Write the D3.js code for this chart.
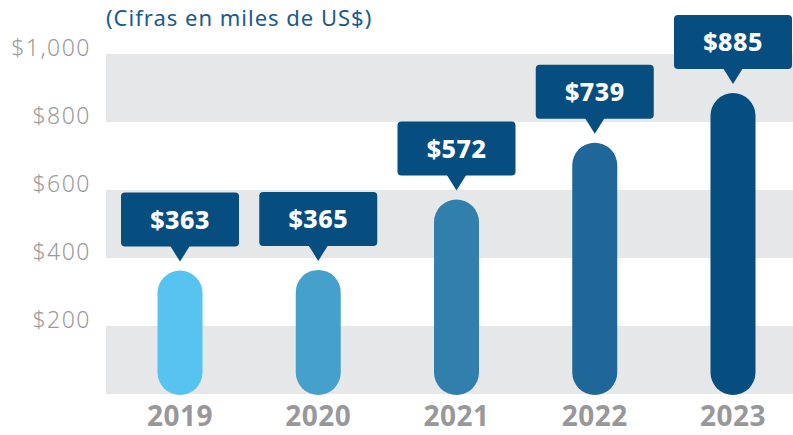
<!DOCTYPE html>
<html><head><meta charset="utf-8">
<script src="https://cdn.jsdelivr.net/npm/d3@7/dist/d3.min.js"></script>
<style>body{margin:0;background:#fff}svg{display:block}</style>
</head><body><svg id="c" width="793" height="435"></svg>
<script>
const years = ["2019","2020","2021","2022","2023"];
const values = [363, 365, 572, 739, 885];
const valueLabels = ["$363","$365","$572","$739","$885"];
const barColors = ["#56c3f0","#46a0cc","#317fad","#1f6699","#064d80"];
const yTicks = [200, 400, 600, 800, 1000];
const yTickLabels = ["$200","$400","$600","$800","$1,000"];
const title = "(Cifras en miles de US$)";

const svg = d3.select("#c");
const font = "'Noto Sans', 'Open Sans', sans-serif";
const y = d3.scaleLinear().domain([0, 1000]).range([394, 54]);
const x = d3.scalePoint().domain(years).range([180, 733]);
const left = 106, right = 793;

// bands
const bands = [[0,200],[400,600],[800,1000]];
svg.selectAll("rect.band").data(bands).join("rect")
  .attr("x", left).attr("width", right-left)
  .attr("y", d => y(d[1])).attr("height", d => y(d[0]) - y(d[1]))
  .attr("fill", "#e6e7e9");

// y labels
svg.selectAll("text.yl").data(yTicks).join("text")
  .attr("x", 91).attr("y", d => y(d) + 2)
  .attr("text-anchor", "end")
  .attr("font-family", font).attr("font-size", 23).attr("font-weight", 300)
  .attr("letter-spacing", 1.5)
  .attr("fill", "#9b9b9d")
  .text((d,i) => yTickLabels[i]);

// title
svg.append("text").attr("x", 106).attr("y", 26)
  .attr("font-family", font).attr("font-size", 22)
  .attr("letter-spacing", 1)
  .attr("fill", "#1a5a8c").text(title);

// bars (pills)
const bw = 45;
svg.selectAll("rect.bar").data(values).join("rect")
  .attr("x", (d,i) => x(years[i]) - bw/2).attr("width", bw)
  .attr("y", d => y(d)).attr("height", d => y(0) - y(d) + 1)
  .attr("rx", bw/2).attr("ry", bw/2)
  .attr("fill", (d,i) => barColors[i]);

// callouts
const boxW = 118, boxH = 54, gap = 9, tipH = 15, tipW = 20;
const g = svg.selectAll("g.call").data(values).join("g")
  .attr("transform", (d,i) => `translate(${x(years[i])},${y(d) - gap})`);
g.append("rect").attr("x", -boxW/2).attr("y", -tipH - boxH)
  .attr("width", boxW).attr("height", boxH).attr("rx", 4)
  .attr("fill", "#064d80");
g.append("path").attr("d", `M${-tipW/2},${-tipH-1}L0,0L${tipW/2},${-tipH-1}Z`)
  .attr("fill", "#064d80");
g.append("text").attr("x", 0).attr("y", -tipH - boxH/2 + 9)
  .attr("text-anchor", "middle")
  .attr("font-family", font).attr("font-size", 25).attr("font-weight", 800)
  .attr("letter-spacing", 0.5)
  .attr("fill", "#fff")
  .text((d,i) => valueLabels[i]);

// x labels
svg.selectAll("text.xl").data(years).join("text")
  .attr("x", d => x(d)).attr("y", 426)
  .attr("text-anchor", "middle")
  .attr("font-family", font).attr("font-size", 28).attr("font-weight", 700)
  .attr("letter-spacing", 0.5)
  .attr("fill", "#98989a")
  .text(d => d);
</script></body></html>
